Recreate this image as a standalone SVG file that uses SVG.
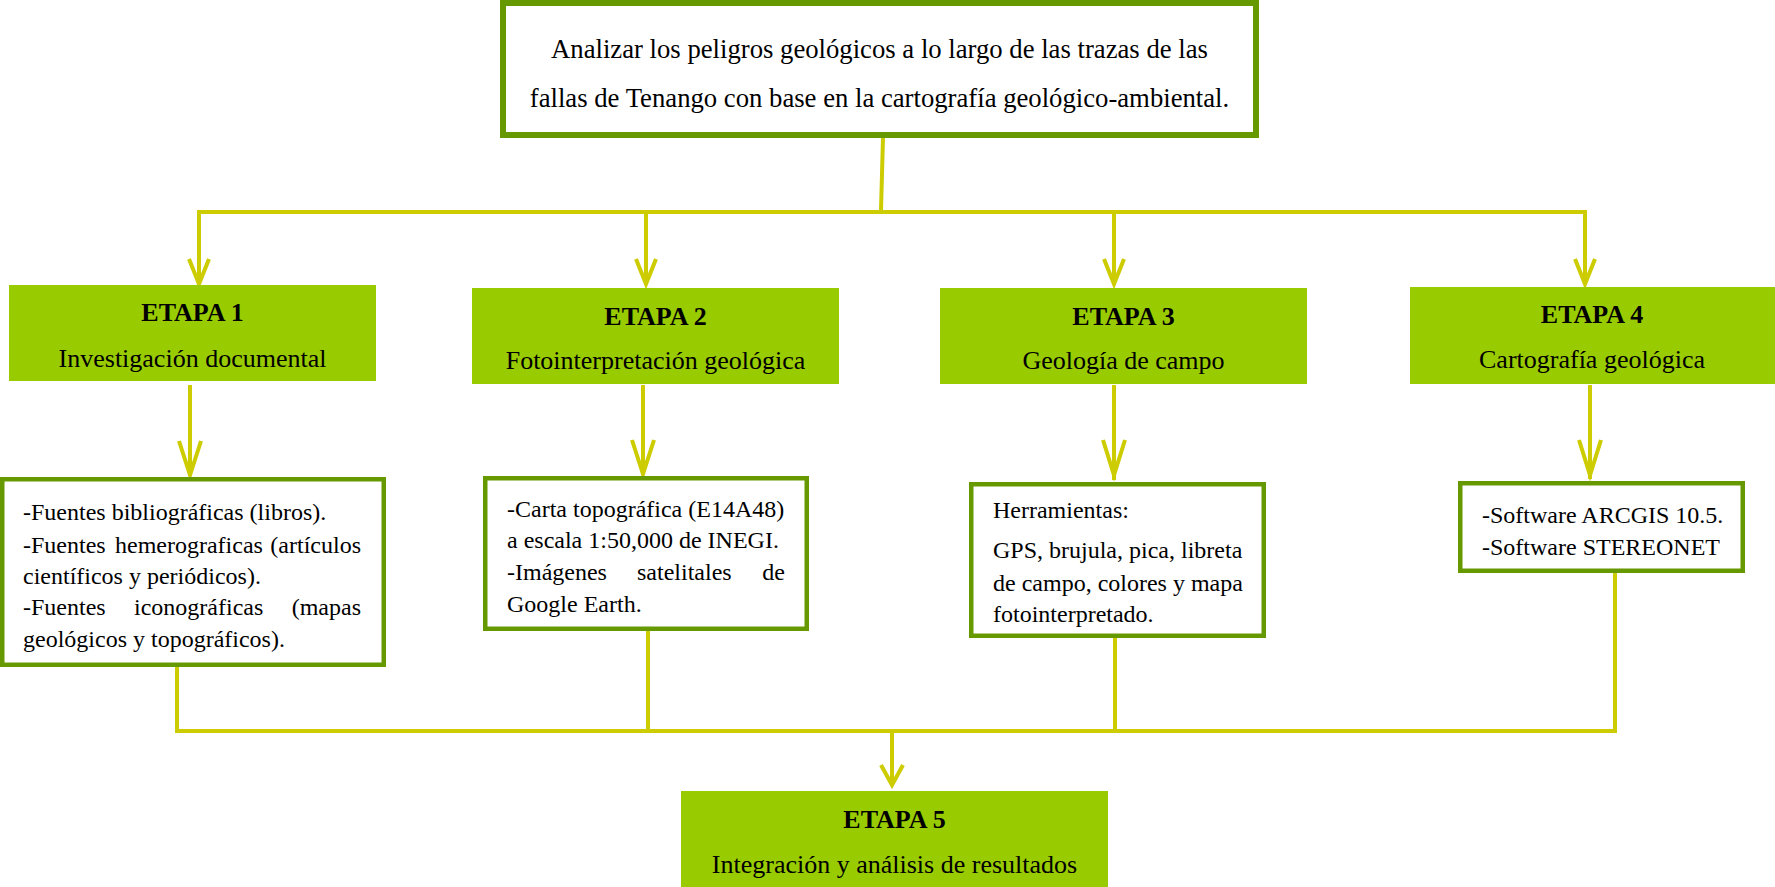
<svg xmlns="http://www.w3.org/2000/svg" width="1775" height="887" viewBox="0 0 1775 887">
<style>
  .stage { fill: #99cc00; }
  .det { fill: #ffffff; stroke: #669900; stroke-width: 4.5; }
  .top { fill: #ffffff; stroke: #669900; stroke-width: 6; }
  .t { font-family: "Liberation Serif", "Times New Roman", serif; fill: #000; }
  .h { font-size: 26px; font-weight: bold; text-anchor: middle; }
  .s { font-size: 26px; text-anchor: middle; }
  .o { font-size: 26.7px; text-anchor: middle; }
  .d { font-size: 24px; }
  .e { text-anchor: end; }
  .c { fill: none; stroke: #cccc00; stroke-width: 4; }
</style>
<rect width="1775" height="887" fill="#ffffff"/>

<g id="connectors">
  <path class="c" d="M883 138 L881 210"/>
  <path class="c" d="M199 284 V212 H1585 V284"/>
  <path class="c" d="M646 212 V284"/>
  <path class="c" d="M1114 212 V284"/>
  <path class="c" d="M189 259 L199 284 L209 259"/>
  <path class="c" d="M636 259 L646 284 L656 259"/>
  <path class="c" d="M1104 259 L1114 284 L1124 259"/>
  <path class="c" d="M1575 259 L1585 284 L1595 259"/>

  <path class="c" d="M190 385 V476"/>
  <path class="c" d="M643 385 V475"/>
  <path class="c" d="M1114 385 V480"/>
  <path class="c" d="M1590 385 V479"/>
  <path class="c" d="M179 441 L190 475 L201 441"/>
  <path class="c" d="M632 440 L643 474 L654 440"/>
  <path class="c" d="M1103 440 L1114 475 L1125 440"/>
  <path class="c" d="M1579 440 L1590 475 L1601 440"/>

  <path class="c" d="M177 667 V731 H1615 V573"/>
  <path class="c" d="M648 631 V731"/>
  <path class="c" d="M1115 638 V731"/>
  <path class="c" d="M892 731 V785"/>
  <path class="c" d="M881 765 L892 785 L903 765"/>
</g>

<g id="objetivo">
  <rect class="top" x="503" y="3" width="753" height="132"/>
  <text class="t o" x="879.5" y="58">Analizar los peligros geológicos a lo largo de las trazas de las</text>
  <text class="t o" x="879.5" y="107">fallas de Tenango con base en la cartografía geológico-ambiental.</text>
</g>

<g id="etapa1">
  <rect class="stage" x="9" y="285" width="367" height="96"/>
  <text class="t h" x="192.5" y="321">ETAPA 1</text>
  <text class="t s" x="192.5" y="367">Investigación documental</text>
</g>
<g id="etapa2">
  <rect class="stage" x="472" y="288" width="367" height="96"/>
  <text class="t h" x="655.5" y="325">ETAPA 2</text>
  <text class="t s" x="655.5" y="369">Fotointerpretación geológica</text>
</g>
<g id="etapa3">
  <rect class="stage" x="940" y="288" width="367" height="96"/>
  <text class="t h" x="1123.5" y="325">ETAPA 3</text>
  <text class="t s" x="1123.5" y="369">Geología de campo</text>
</g>
<g id="etapa4">
  <rect class="stage" x="1410" y="287" width="365" height="97"/>
  <text class="t h" x="1592" y="323">ETAPA 4</text>
  <text class="t s" x="1592" y="368">Cartografía geológica</text>
</g>
<g id="etapa5">
  <rect class="stage" x="681" y="791" width="427" height="96"/>
  <text class="t h" x="894.5" y="828">ETAPA 5</text>
  <text class="t s" x="894.5" y="873">Integración y análisis de resultados</text>
</g>

<g id="detalle1">
  <rect class="det" x="2.25" y="479.25" width="381.5" height="185.5"/>
  <text class="t d" x="23" y="520">-Fuentes bibliográficas (libros).</text>
  <text class="t d" x="23" y="553">-Fuentes</text>
  <text class="t d" x="115" y="553">hemerograficas</text>
  <text class="t d e" x="361" y="553">(artículos</text>
  <text class="t d" x="23" y="584">científicos y periódicos).</text>
  <text class="t d" x="23" y="615">-Fuentes</text>
  <text class="t d" x="134" y="615">iconográficas</text>
  <text class="t d e" x="361" y="615">(mapas</text>
  <text class="t d" x="23" y="647">geológicos y topográficos).</text>
</g>

<g id="detalle2">
  <rect class="det" x="485.25" y="478.25" width="321.5" height="150.5"/>
  <text class="t d" x="507" y="517">-Carta topográfica (E14A48)</text>
  <text class="t d" x="507" y="548">a escala 1:50,000 de INEGI.</text>
  <text class="t d" x="507" y="580">-Imágenes</text>
  <text class="t d" x="637" y="580">satelitales</text>
  <text class="t d e" x="785" y="580">de</text>
  <text class="t d" x="507" y="612">Google Earth.</text>
</g>

<g id="detalle3">
  <rect class="det" x="971.25" y="484.25" width="292.5" height="151.5"/>
  <text class="t d" x="993" y="518">Herramientas:</text>
  <text class="t d" x="993" y="558">GPS, brujula, pica, libreta</text>
  <text class="t d" x="993" y="591">de campo, colores y mapa</text>
  <text class="t d" x="993" y="622">fotointerpretado.</text>
</g>

<g id="detalle4">
  <rect class="det" x="1460.25" y="483.25" width="282.5" height="87.5"/>
  <text class="t d" x="1482" y="523">-Software ARCGIS 10.5.</text>
  <text class="t d" x="1482" y="555">-Software STEREONET</text>
</g>
</svg>
